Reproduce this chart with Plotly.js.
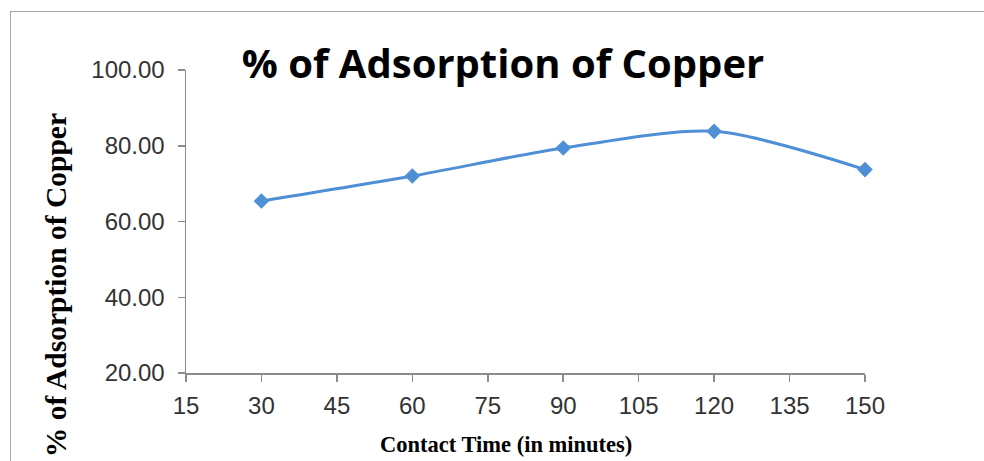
<!DOCTYPE html>
<html>
<head>
<meta charset="utf-8">
<script src="https://cdn.plot.ly/plotly-3.0.1.min.js"></script>
<style>
html,body{margin:0;padding:0;background:#fff;overflow:hidden;}
#frame{position:absolute;left:10px;top:11px;width:1100px;height:600px;border:1.5px solid #a6a6a6;box-sizing:border-box;}
#chart{position:absolute;left:0;top:0;width:984px;height:461px;}
</style>
</head>
<body>
<div id="frame"></div>
<div id="chart"></div>
<script>
const contactTime = [30, 60, 90, 120, 150];
const adsorption = [65.4, 72.0, 79.4, 83.8, 73.7];
const xTicks = [15, 30, 45, 60, 75, 90, 105, 120, 135, 150];
const yTicks = [20, 40, 60, 80, 100];
const chartTitle = '% of Adsorption of Copper';
const xTitle = 'Contact Time (in minutes)';
const yTitle = '% of Adsorption of Copper';

const trace = {
  x: contactTime,
  y: adsorption,
  type: 'scatter',
  mode: 'lines+markers',
  cliponaxis: false,
  line: {color: '#4F8FD6', width: 3, shape: 'spline', smoothing: 0.8},
  marker: {symbol: 'diamond', size: 12, color: '#4F8FD6'},
  hoverinfo: 'x+y'
};

const axisCommon = {
  showgrid: false,
  zeroline: false,
  showline: true,
  linecolor: '#8c8c8c',
  linewidth: 1.5,
  ticks: 'outside',
  ticklen: 7,
  tickwidth: 1.5,
  tickcolor: '#8c8c8c',
  tickfont: {family: 'Liberation Sans, Arial, sans-serif', size: 24, color: '#333333'}
};

const layout = {
  width: 984,
  height: 461,
  margin: {l: 186, r: 119, t: 69.5, b: 88},
  paper_bgcolor: 'rgba(0,0,0,0)',
  plot_bgcolor: 'rgba(0,0,0,0)',
  showlegend: false,
  title: {
    text: chartTitle,
    font: {family: 'Open Sans, Noto Sans, sans-serif', size: 40, color: '#000', weight: 'bold'},
    x: 503 / 984, xanchor: 'center', xref: 'container',
    y: 1 - 64 / 461, yanchor: 'middle', yref: 'container'
  },
  xaxis: Object.assign({}, axisCommon, {
    range: [15, 150],
    tickmode: 'array',
    tickvals: xTicks,
    ticktext: xTicks.map(String),
    ticklabelstandoff: 4
  }),
  yaxis: Object.assign({}, axisCommon, {
    range: [20, 100],
    tickmode: 'array',
    tickvals: yTicks,
    ticktext: yTicks.map(v => v.toFixed(2)),
    ticklabelstandoff: 8
  }),
  annotations: [
    {
      text: '<b>' + xTitle + '</b>',
      xref: 'paper', yref: 'paper',
      x: (506 - 186) / 679, y: (373 - 445) / 303.5,
      xanchor: 'center', yanchor: 'middle',
      showarrow: false,
      font: {family: 'Liberation Serif, Times New Roman, serif', size: 22.5, color: '#000'}
    },
    {
      text: '<b>' + yTitle + '</b>',
      xref: 'paper', yref: 'paper',
      x: (56 - 186) / 679, y: (373 - 285) / 303.5,
      xanchor: 'center', yanchor: 'middle',
      textangle: -90,
      showarrow: false,
      font: {family: 'Liberation Serif, Times New Roman, serif', size: 29.5, color: '#000'}
    }
  ]
};

Plotly.newPlot('chart', [trace], layout, {displayModeBar: false, staticPlot: true});
</script>
</body>
</html>
